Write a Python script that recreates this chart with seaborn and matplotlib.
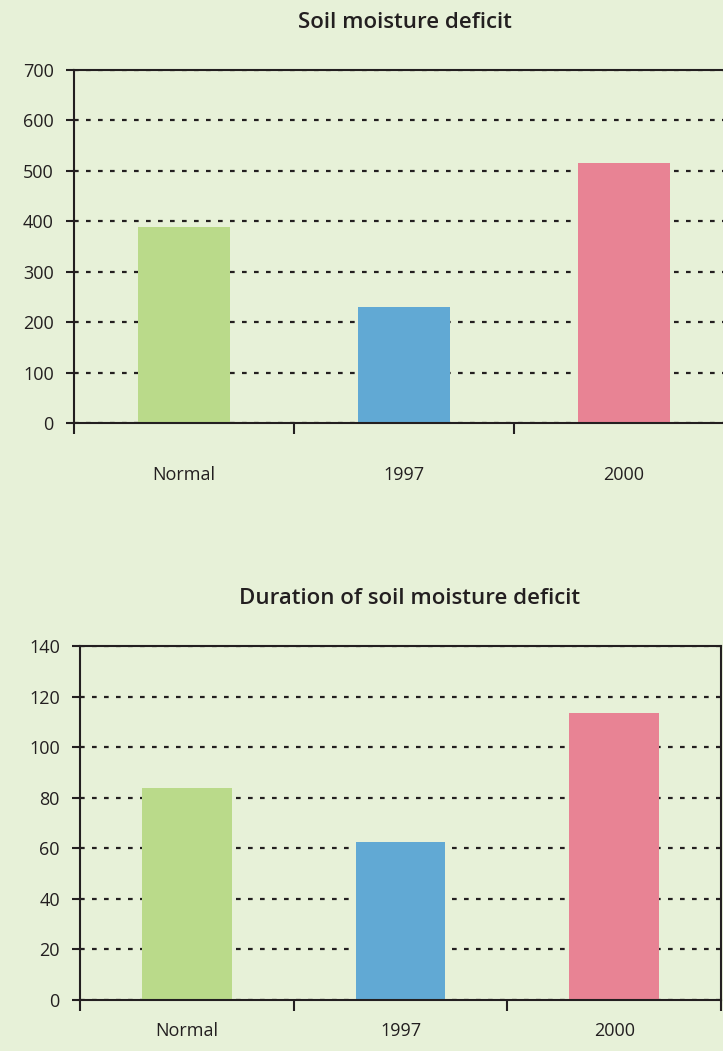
import matplotlib
matplotlib.use("Agg")
import matplotlib.pyplot as plt
import seaborn as sns
from matplotlib.ticker import FixedLocator, MultipleLocator

# Data
categories = ["Normal", "1997", "2000"]
deficit_mm = [389, 230, 515]
deficit_days = [84, 62.5, 113.5]
bar_colors = ["#BADA8A", "#61A9D4", "#E88394"]

bg = "#E7F1D8"
ink = "#231F20"

sns.set_theme(style="white")
plt.rcParams["font.family"] = ["Open Sans", "DejaVu Sans"]

fig = plt.figure(figsize=(7.23, 10.51), dpi=100, facecolor=bg)

ax_top = fig.add_axes([74 / 723, 628 / 1051, 660 / 723, 353 / 1051])
ax_bot = fig.add_axes([80 / 723, 51 / 1051, 641 / 723, 354 / 1051])


def style_axis(ax, values, ymax, ystep, xpad):
    ax.set_facecolor(bg)
    sns.barplot(x=categories, y=values, hue=categories, palette=bar_colors,
                width=0.42, saturation=1, legend=False, linewidth=0,
                ax=ax, zorder=3)
    ax.set_xlim(-0.5, 2.5)
    ax.set_ylim(0, ymax)
    ax.yaxis.set_major_locator(MultipleLocator(ystep))
    ax.set_axisbelow(True)
    ax.yaxis.grid(True, color=ink, linestyle=(0, (2.1, 3.3)), linewidth=1.6)
    ax.xaxis.grid(False)
    for side in ["left", "bottom", "top", "right"]:
        ax.spines[side].set_visible(True)
        ax.spines[side].set_color(ink)
        ax.spines[side].set_linewidth(1.5)
        ax.spines[side].set_zorder(4)
    ax.tick_params(axis="y", which="major", direction="out", length=5.5,
                   width=1.5, color=ink, pad=9, labelsize=13, labelcolor=ink,
                   left=True)
    ax.tick_params(axis="x", which="major", length=0, pad=xpad,
                   labelsize=13, labelcolor=ink)
    ax.xaxis.set_minor_locator(FixedLocator([-0.5, 0.5, 1.5, 2.5]))
    ax.tick_params(axis="x", which="minor", direction="out", length=8,
                   width=1.5, color=ink, bottom=True)
    ax.set_xlabel("")
    ax.set_ylabel("")


style_axis(ax_top, deficit_mm, 700, 100, 31)
style_axis(ax_bot, deficit_days, 140, 20, 16)

fig.text(405 / 723, 1 - 22 / 1051, "Soil moisture deficit", ha="center",
         va="center", fontsize=16, fontweight="semibold", color=ink)
fig.text(410 / 723, 1 - 598 / 1051, "Duration of soil moisture deficit",
         ha="center", va="center", fontsize=16, fontweight="semibold",
         color=ink)

fig.savefig("out.png", dpi=100, facecolor=bg)
